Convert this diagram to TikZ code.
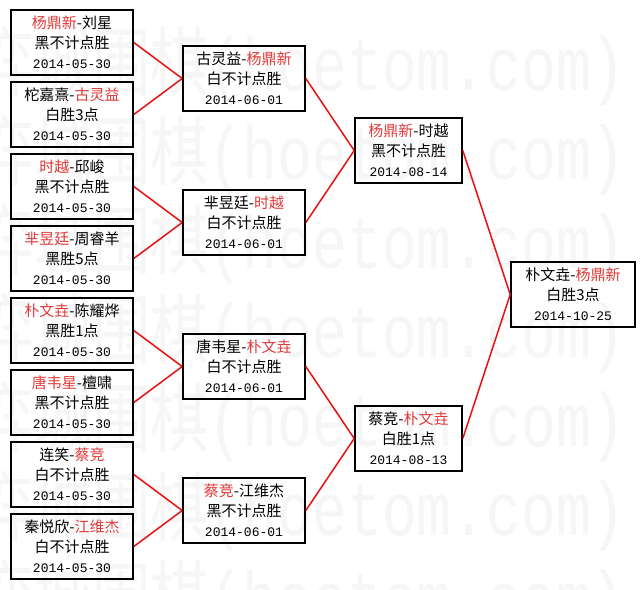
\documentclass[tikz,border=0pt]{standalone}
\usepackage{fontspec}
\setmainfont{Noto Sans CJK SC}
\newfontfamily\datefont{Liberation Mono}
\usetikzlibrary{positioning}
\definecolor{linkred}{HTML}{E81010}
\definecolor{namered}{HTML}{E23A3A}
\definecolor{markgray}{HTML}{F6F6F6}
\newcommand{\winner}[1]{{\color{namered}#1}}
\newcommand{\playday}[1]{{\datefont\fontsize{13}{20}\selectfont #1}}

\begin{document}
\begin{tikzpicture}[x=1pt, y=-1pt,
  match/.style={draw=black, line width=1.6pt, inner sep=0pt, minimum height=65pt,
    minimum width=122pt, align=center, font=\fontsize{15}{20}\selectfont},
  narrow/.style={match, minimum width=107pt},
  wide/.style={match, minimum width=124pt},
  link/.style={draw=linkred, line width=1.5pt},
  watermark/.style={text=markgray, inner sep=0pt, font=\fontsize{58}{60}\selectfont},
]
\fill[white] (0,0) rectangle (644,589);
\useasboundingbox (0,0) rectangle (644,589);

% faint site mark behind the bracket
\foreach \row in {0,...,6} {
  \node[watermark, anchor=base east] (mark\row) at (626, {90+89*\row})
    {\scalebox{1}[1.3]{弈城围棋{\datefont(hoetom.com)}}};
}

% first round, 2014-05-30
\node[match] (r1a) at (72,42.5)  {\winner{杨鼎新}-刘星\\黑不计点胜\\\playday{2014-05-30}};
\node[match] (r1b) at (72,114.5) {柁嘉熹-\winner{古灵益}\\白胜3点\\\playday{2014-05-30}};
\node[match] (r1c) at (72,186.5) {\winner{时越}-邱峻\\黑不计点胜\\\playday{2014-05-30}};
\node[match] (r1d) at (72,258.5) {\winner{芈昱廷}-周睿羊\\黑胜5点\\\playday{2014-05-30}};
\node[match] (r1e) at (72,330.5) {\winner{朴文垚}-陈耀烨\\黑胜1点\\\playday{2014-05-30}};
\node[match] (r1f) at (72,402.5) {\winner{唐韦星}-檀啸\\黑不计点胜\\\playday{2014-05-30}};
\node[match] (r1g) at (72,474.5) {连笑-\winner{蔡竞}\\白不计点胜\\\playday{2014-05-30}};
\node[match] (r1h) at (72,546.5) {秦悦欣-\winner{江维杰}\\白不计点胜\\\playday{2014-05-30}};

% second round, 2014-06-01
\node[match] (r2a) at (244,78.5)  {古灵益-\winner{杨鼎新}\\白不计点胜\\\playday{2014-06-01}};
\node[match] (r2b) at (244,222.5) {芈昱廷-\winner{时越}\\白不计点胜\\\playday{2014-06-01}};
\node[match] (r2c) at (244,366.5) {唐韦星-\winner{朴文垚}\\白不计点胜\\\playday{2014-06-01}};
\node[match] (r2d) at (244,510.5) {\winner{蔡竞}-江维杰\\黑不计点胜\\\playday{2014-06-01}};

% semi-finals
\node[narrow] (r3a) at (408.5,150.5) {\winner{杨鼎新}-时越\\黑不计点胜\\\playday{2014-08-14}};
\node[narrow] (r3b) at (408.5,438.5) {蔡竞-\winner{朴文垚}\\白胜1点\\\playday{2014-08-13}};

% final
\node[wide] (fin) at (573,294.5) {朴文垚-\winner{杨鼎新}\\白胜3点\\\playday{2014-10-25}};

\foreach \from/\to in {r1a/r2a, r1b/r2a, r1c/r2b, r1d/r2b, r1e/r2c, r1f/r2c,
  r1g/r2d, r1h/r2d, r2a/r3a, r2b/r3a, r2c/r3b, r2d/r3b, r3a/fin, r3b/fin}
  \draw[link] (\from.east) -- (\to.west);
\end{tikzpicture}
\end{document}
